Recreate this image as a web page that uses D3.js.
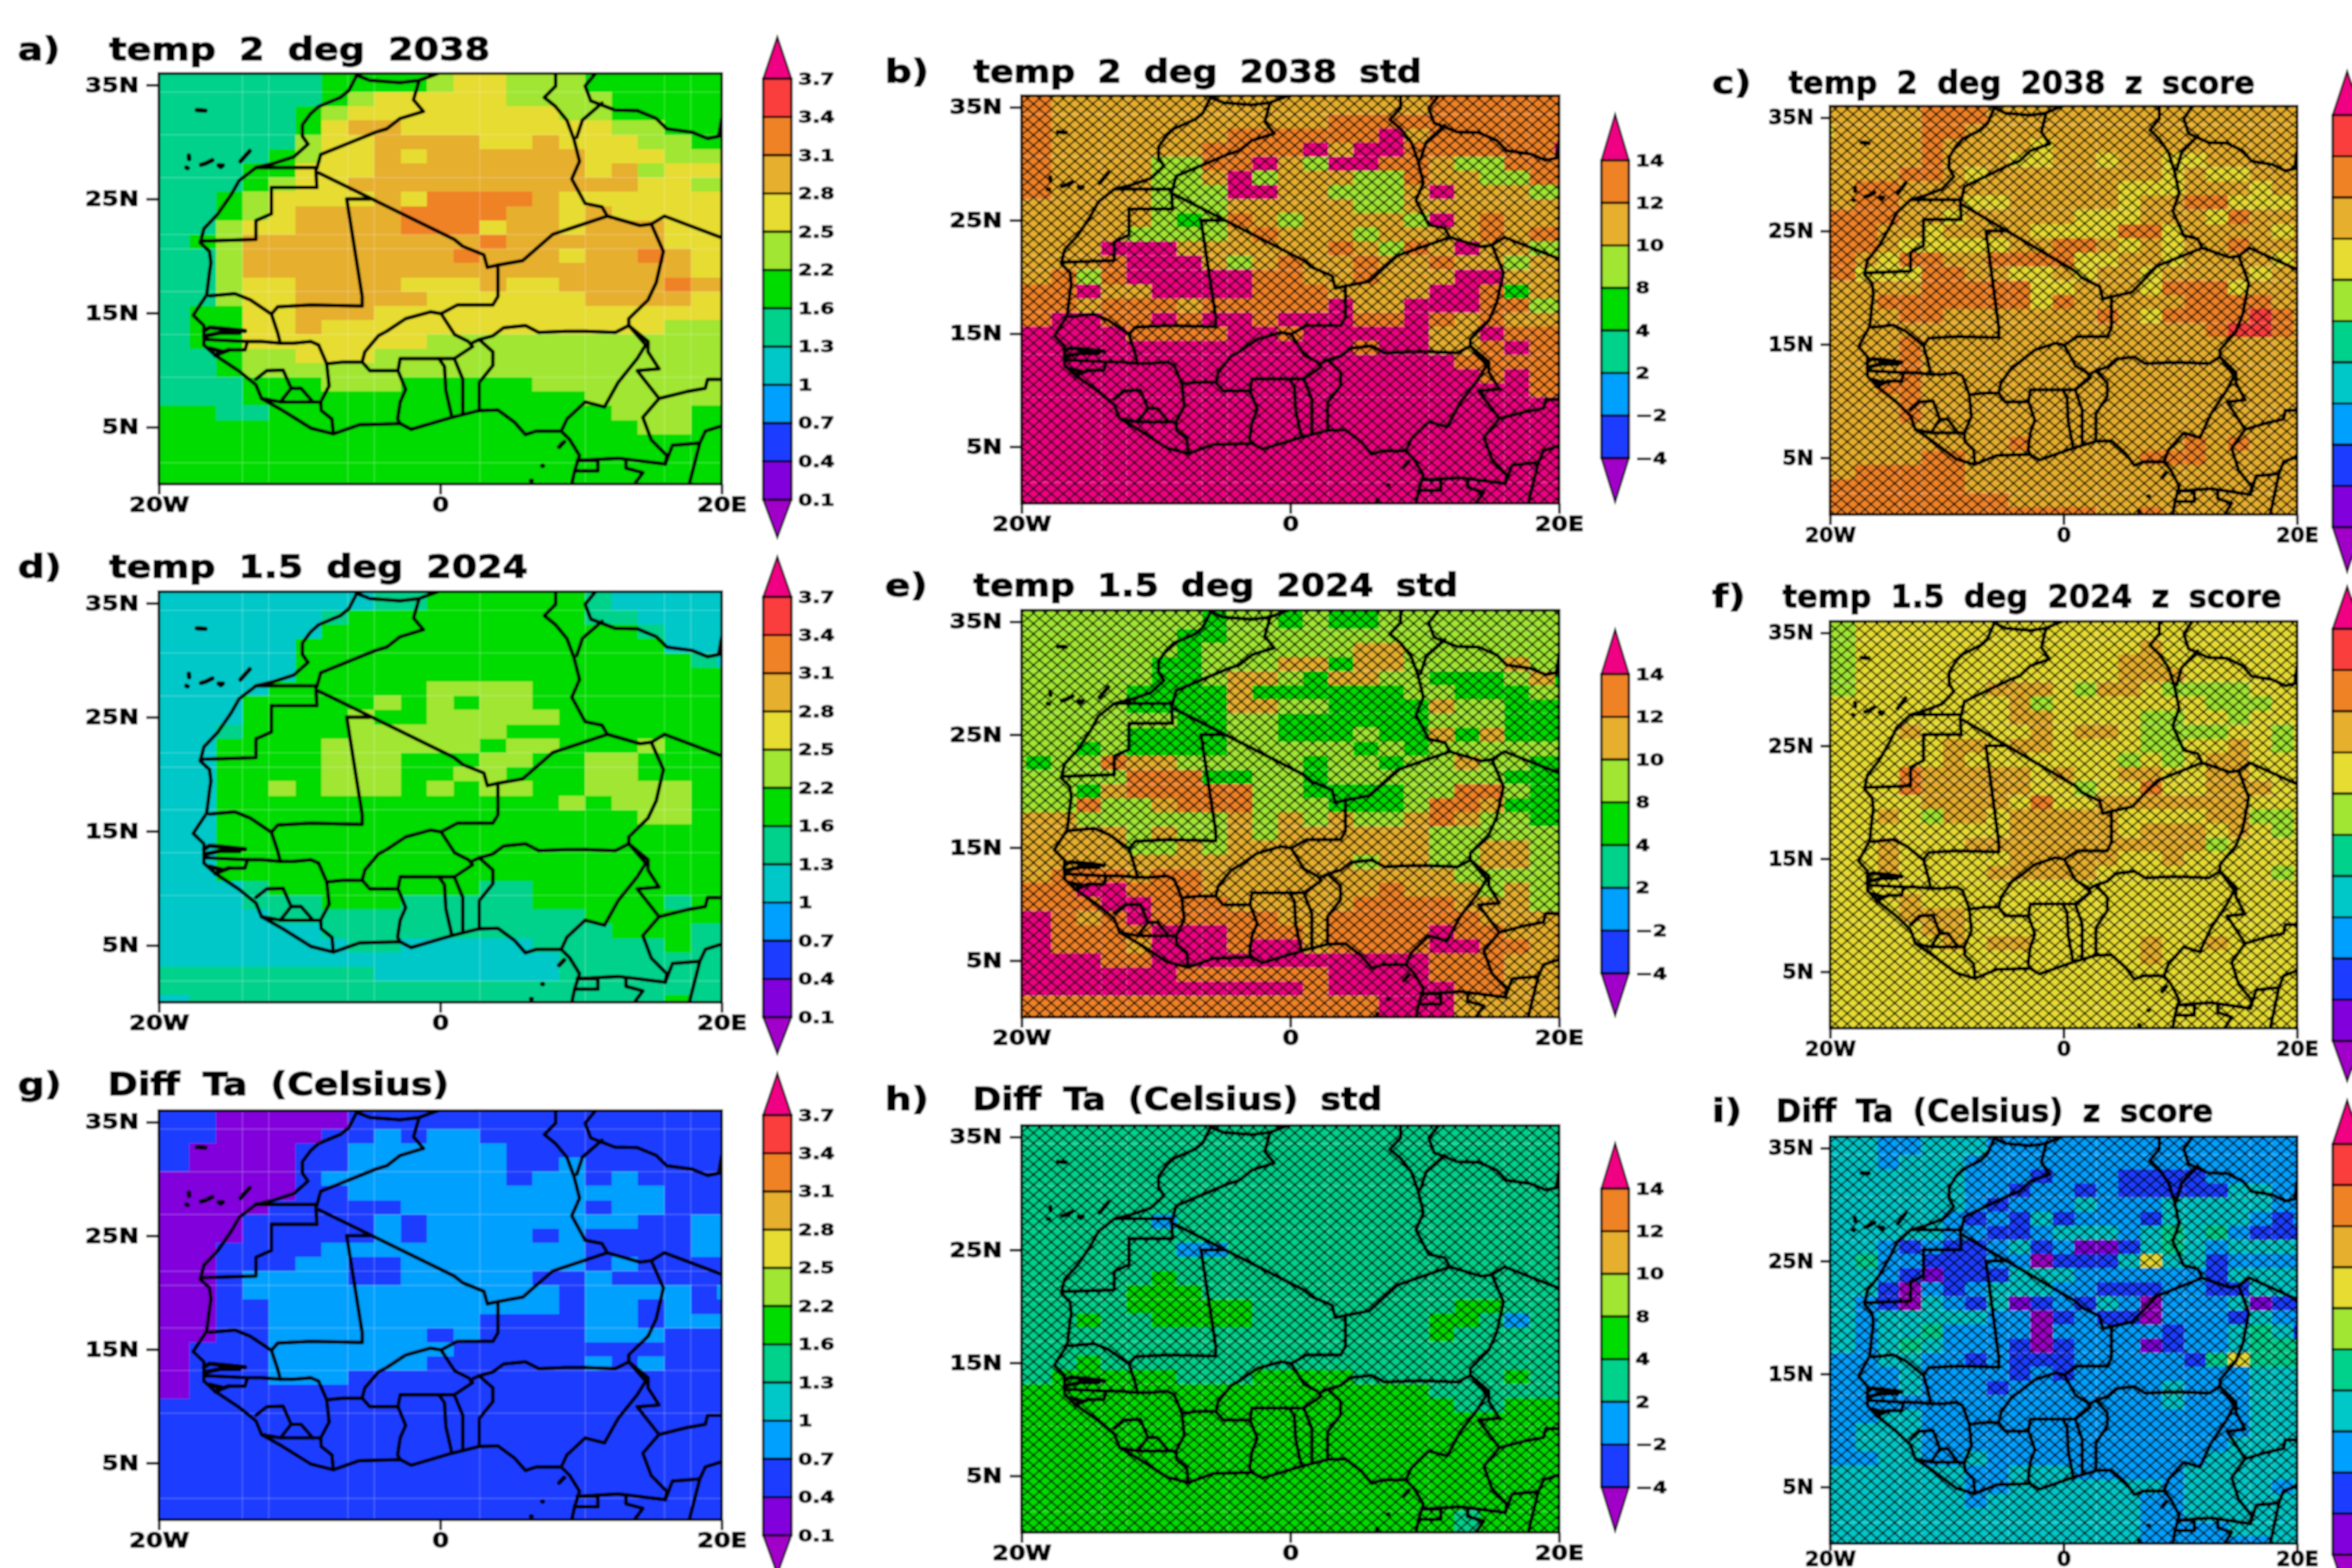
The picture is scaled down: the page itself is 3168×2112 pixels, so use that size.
<!DOCTYPE html>
<html>
<head>
<meta charset="utf-8">
<script src="https://cdn.jsdelivr.net/npm/d3@7"></script>
<style>
  html, body { margin: 0; background: #fff; }
  text { font-family: "DejaVu Sans", sans-serif; font-weight: bold; fill: #000; }
</style>
</head>
<body>
<svg id="chart" width="3168" height="2112"></svg>
<script>
// cell values are colour band numbers (hex digit per cell), north row first, 20W to 20E
const tempTwo = [
  "55555556666788777666666","55555556666788777666666","55555556788888777766666","55555567888888887766666",
  "55555568998888888877666","55555578899998898887766","55555678898999999888777","55556688899999999897888",
  "55556788999999999998877","55567888898aaaa98888888","5556789999aaaa998988888","5557889999aaa8998999888",
  "5567999999999a999999888","555799999999a999899a988","55579999999999999999988","55578899998889889999a99",
  "55578899999888888999988","55668899988888888888888","55668898888888888888777","55668888888777777777777",
  "55567788877777777777777","55567777777777777777777","55556667776666677777777","55556666666666666777777",
  "66655666666666666677766","66666666666666666667766","66666666666666666666666","66666666666666666666666",
  "66666666666666666666666","66666666666666666666666"
];
const tempTwoStd = [
  "aa999999999999999aaaaaa","aa999999999999999aaaaaa","aa99999999999aaaaaaaaaa","aa9999999aaaaaac9aaaaaa",
  "aa999999aaaac9ccaaaaaac","aa999977aac97ccaa977aaa","aa9999779c799977a9977aa","aa9999777cc997779c99977",
  "99999977799999779999999","999999767a9799997c9a999","9999977779a99979999a9aa","9999ccc999999a97a9c9977",
  "9999accc979a99a99a99799","99a7acccccaa99a999cc999","aaac99ccccaaa9999cca699","aaa9aaa9aaaaac99cccaa77",
  "aaccaacaccacccaaca9a999","cccccaaaaccaccccc99caaa","ccccccccccccccacc99acaa","ccccccccccccccccccaaaaa",
  "cccccccccccccccccccacaa","cccccccccccccccccccccaa","ccccccccccccccccccccccc","ccccccccccccccccccccccc",
  "ccccccccccccccccccccccc","ccccccccccccccccccccccc","ccccccccccccccccccccccc","ccccccccccccccccccccccc",
  "ccccccccccccccccccccccc","ccccccccccccccccccccccc"
];
const tempTwoZ = [
  "99999aaa999999999999999","99999aaa999999999999999","89999aa9999999999999999","99999a99998999999999999",
  "99999a99988998998899999","9999aa98999999998988999","99aa9999999999888999899","99aa9998899999899aa8889",
  "aaaa998999998889998a999","aaa99899998888aa8999989","aaa98888899aa989899a999","aa98aa99aaaa88998999989",
  "aa888aa9988989989999899","99999aaaaa889998aaa8999","999aaaaaaa8a99999aaaa99","9999aa9999999a98aaaaba9",
  "999999999999999999abba9","9999a999999999999999999","9999a999999999999999999","9999a999999999999999999",
  "999aa999999999999999999","9999a999999999999999999","9999a999999999999999999","99999999999999999999999",
  "999999999a9999999a9a999","99999aa99999999aaa99999","99aaaaa9999999999999999","aaaaaaa9999999999999999",
  "aaaaaaaaa99999999999999","aaaaaaaaaaaaa99a9999999"
];
const tempOneFive = [
  "44444444455666666544444","44444444455666666544444","44444445666666666554444","44444446666666666665444",
  "44444466666666666666444","44444466666666666666654","44444466666666666666666","44444666666777766666666",
  "44446666676767766666666","44446666766777776666666","44456666777777666666666","44466667777776776667666",
  "44466667776667766776666","44466667776677666776666","44466767776767766777766","44466666666666667677766",
  "44466666666666666667766","44466666666666666666666","44466666666666666666666","44466666666666666666666",
  "44466666666666666666666","44445666666665566666666","44445556665555566666566","44444555555555555666666",
  "44444445555555555566655","44444444554444455555655","44444444444444445555555","55555555544444445555555",
  "55555555555555555555555","44555555555555555555655"
];
const tempOneFiveStd = [
  "77777777677676677777777","77777777677676677777777","77777776677777777777777","77777776777777997777777",
  "77777766777996997777977","77777766799769977666796","77777666696666667766677","77777666699776666977666",
  "77777776677666666777666","77777666677666766969666","77767666677777676777777","7677a997777767767797766",
  "77777aaa667767777777666","77769aaaaa77666677aa766","777a779aaa7776667aa9666","99977777797979779a97766",
  "99999797797999999777777","99999779799999999779977","99999999999999799779977","99aaa9aa999999999977777",
  "aaaccaaa9999999a9997977","aaaaccaaa99999aaaa99977","cca9acaaaaa99aaaaaa9999","ccaaaacccaaa9aaaacaa999",
  "ccaaa9cccacc9aaaaccaa99","ccccaacccccccccccaaa999","cccccccaaaaaaccccaaa999","ccccccccccccacccccaa999",
  "aaaaaaaaaaaaaaaccc99999","aaaaaaaaaaaaaaaccc99999"
];
const tempOneFiveZ = [
  "77888888888888888888888","77888888888888888888888","77888888888888898888888","77888888888888998888888",
  "77888888888888999888888","77888888999879987777888","88888888897888888877788","88888888899888877887888",
  "88889888889899877778878","88888899899888877889878","88888898888888787899888","8888a999998988998899888",
  "8888a9999988788a8899988","8888899998a889999999888","88898799899999888899778","88888888899999899989878",
  "88898889999999999978888","88898888899999889888888","88898888999998888888878","88888888888888888888888",
  "88889888888888888888888","88889998888888888888888","88888998888888888888888","88888898998888898898888",
  "88888888888888898888888","88888888888888888888888","88888888888888888888888","88888888888888888888888",
  "88888888888888888888888","88888888888888888888888"
];
const diffTa = [
  "22211111222222222222222","22211111222222222222222","22211112232332222222222","22111122333333222222222",
  "22111122333333223222222","11111123333333233232222","11111122333333333333222","11111222223333333233222",
  "11112222232333333332233","11112222232333323222233","11122223333333333222233","11122233223333333232222",
  "11123333223333322322222","11123333333333332333323","11122333333333332332322","11122333333332222332333",
  "11122333333232222333222","11222333333322222222222","11222333333222222323222","11222333222222222222222",
  "11222222222222222222222","22222222222222222222222","22222222222222222222222","22222222222222222222222",
  "22222222222222222222222","22222222222222222222222","22222222222222222222222","22222222222222222222222",
  "22222222222222222222222","22222222222222222222222"
];
const diffStd = [
  "55555555555555555555555","55555555555555555555555","55555555555555555555555","55555555555555555555555",
  "55555555555555555555555","55555555555555555555555","55555555555555555555555","55555535555555555555555",
  "55555555555555555555555","55555553355555555555555","55555555555555555555555","55555565555555555555555",
  "55555666555555555555555","55555666665555555566555","55565566665555555665355","55555555555555555655555",
  "55555555555555555555555","55565555555555555555555","55666665556666555555655","66666666666666666555555",
  "66666666666666666655666","66666666666666666666666","66666666666666666666666","66666666666666666666666",
  "66666666666666666666666","66666666666666666666666","66666666666666666666666","66666666666666666666666",
  "66666666666666666656666","66666666666666666656666"
];
const diffZ = [
  "44433444333333333333333","44433444333333333333333","44434443333333333333333","44444443332333222233333",
  "44444443323323222224433","44444443233343334444433","44444432324233324444323","44444433223444345453222",
  "44432322342311245434444","44533222330222484423333","44432122244433333324444","44420323444332223322444",
  "44320432412324303334122","44344444330232203332433","44344533330333332334542","44345433320233312334555",
  "33344332322233333258555","33334333323233333333444","33334333233333334333444","33333333333333334333444",
  "33344333333333333333444","33444333333333333333444","33444333333333333334444","33344334333333333344444",
  "44444443344433333444444","44444443344444443444434","44444443444444433444444","44444444444444433444444",
  "44444444444444433334444","44444444444444433333344"
];

// contour levels and the bands between them, top of the colour bar first
const tempLevels = ["3.7", "3.4", "3.1", "2.8", "2.5", "2.2", "1.6", "1.3", "1", "0.7", "0.4", "0.1"];
const stdLevels = ["14", "12", "10", "8", "4", "2", "\u22122", "\u22124"];
const tempBands = [12, 11, 10, 9, 8, 7, 6, 5, 4, 3, 2, 1, 0];
const stdBands = [12, 10, 9, 7, 6, 5, 3, 2, 0];
const zBands = [12, 11, 10, 9, 8, 7, 5, 4, 3, 2, 1, 0];

const latTicks = [35, 25, 15, 5];
const latTickLabels = ["35N", "25N", "15N", "5N"];
const lonTicks = [-20, 0, 20];
const lonTickLabels = ["20W", "0", "20E"];

// pale seams left in the raster, they sit on some of the cell edges
const seamLons = [-14.0625, -12.1875, -6.5625, -4.6875, 2.8125, 10.3125, 15.9375, 17.8125];
const seamLats = [34.375, 30.625, 26.875, 21.875, 20.625, 16.875, 13.125, 9.375, 1.875];

// GrADS rainbow
const bandColors = ["#a000c8", "#8200dc", "#1e3cff", "#00a0ff", "#00c8c8", "#00d28c", "#00dc00",
  "#a0e632", "#e6dc32", "#e6af2d", "#f08228", "#fa3c3c", "#f00082"];

// map outlines in [lon, lat]
const coast = [
  [[-5.94,36.2],[-5.94,35.85],[-6.5,34.5],[-7.1,33.9],[-8.65,33.1],[-9.2,32.5],[-9.8,31.5],[-9.8,30.5],[-9.4,29.8],[-10.4,28.7],
   [-11.9,28.1],[-13.1,27.75],[-14.3,26.6],[-14.85,25.4],[-15.8,23.7],[-16.8,22.4],[-17.05,21.15],[-16.4,20.4],[-16.3,19.4],[-16.4,18.6],
   [-16.6,16.6],[-17.56,14.8],[-16.8,13.9],[-16.8,12.2],[-16,11.3],[-14.3,9.9],[-13.1,8.7],[-12.7,7.5],[-11.2,6.45],[-9.2,4.9],
   [-7.6,4.4],[-5.75,5.2],[-2.85,5.3],[-2.07,4.8],[0.83,5.85],[2.77,6.45],[4.1,6.5],[5.3,5.4],[6.06,4.33],[6.83,4.64],
   [8.6,4.64],[9.2,3.9],[9.9,2.5],[9.55,1.15],[9.35,0]],
  [[-5.94,35.85],[-5,35.4],[-2.85,35.2],[-1.5,35.4],[0.06,36.1]],
  [[11.1,36.1],[10.3,34.9],[10.7,33.6],[12.4,32.8],[14,32.75],[15.35,32.06],[16.1,31.15],[17.9,30.85],[19,30.3],[19.8,30.5],[20,32]]
];
const borders = [
  [[8.2,36],[8.2,34.9],[7.4,33.9],[8.2,33.1],[9,31.9],[9.5,30.25],[9.9,28.3],[9.35,26.75],[10.3,24.6],[11.5,24.3],[11.87,23.5]],
  [[11.5,33.4],[10.1,31.9],[9.7,30.4]],
  [[11.87,23.5],[8,21.9],[5.87,19.6],[4.1,19.2],[3.35,19],[3.1,20.1],[1.6,20.85],[1,21.45],[-8.65,27.3]],
  [[-13.1,27.75],[-8.85,27.75],[-8.77,26],[-12,26],[-12,23.7],[-13.1,23.1],[-13.1,21.45],[-17.05,21.3]],
  [[-1.5,35.4],[-1.9,33.7],[-1.2,32.67],[-2.85,32.06],[-3.8,31.15],[-4.6,30.85],[-6.5,29.9],[-8.5,28.9],[-8.77,27.67]],
  [[-5,25],[-6.65,25],[-5.55,16.45],[-5.55,15.6],[-9.2,15.7],[-11.55,15.55],[-12,14.9],[-13.5,16.15],[-14.6,16.7],[-16.4,16.5]],
  [[4.1,19.2],[4.1,16.45],[3.74,15.7],[1.2,15.7],[0.06,14.94],[-0.7,15.1],[-2.46,14.5],[-3.8,13.4],[-4.4,13],[-5.36,11.6],[-5.55,10.7],[-6.9,10.7],[-8.07,10.55]],
  [[-8.07,10.55],[-8.65,12.2],[-9.2,12.5],[-10.4,12.36],[-11.37,12.36],[-11.56,13.27],[-12,14.9]],
  [[-11.37,12.36],[-12.7,12.5],[-13.7,12.5],[-16.6,12.67]],
  [[-13.7,12.5],[-13.88,11.76],[-15.04,11.76]],
  [[-13.1,9.2],[-12.33,9.94],[-11.17,10],[-10.6,8.4],[-11.36,7.2],[-12.7,7.5]],
  [[-10.6,8.4],[-9.9,8.4],[-9.05,7.2],[-8.5,7.2],[-7.9,8.6],[-8.07,10.55]],
  [[-11.36,7.2],[-9.05,7.2]],
  [[-8.5,7.2],[-8.46,6.45],[-7.7,5.7],[-7.6,4.4]],
  [[-5.55,10.7],[-5,9.94],[-3,9.94],[-2.46,8.3],[-2.85,7.2],[-3.03,5.7],[-2.85,5.3]],
  [[-3,9.94],[-2.85,11],[-0.33,11],[1,11]],
  [[-0.1,11],[0.3,10.3],[0.4,8.2],[0.83,5.85]],
  [[1,11],[1.6,9.2],[1.6,6.1]],
  [[0.06,14.94],[1.03,13.1],[2,12.5],[2.3,12.06],[1,11]],
  [[2.3,12.4],[2.77,12.67],[3.74,11.6],[3.74,10.4],[2.77,8.9],[2.77,6.45]],
  [[2.77,12.67],[3.74,13],[4.5,13.7],[6.06,13.9],[7,13.3],[8.97,13.4],[10.3,13.4],[12.45,13.3],[13.4,13.9]],
  [[13.4,13.9],[13.4,14.5],[14.77,16.15],[15.35,17.67],[15.86,20.4],[15,22.8],[14.2,22.67],[11.87,23.5]],
  [[15,22.8],[15.93,23.5],[20,21.6]],
  [[13.4,13.9],[14.6,12.2],[14,11],[12.64,8.9],[11.67,6.76],[10.3,7.2],[9,5.7],[8.6,4.64]],
  [[13.4,13.9],[14.77,12.5],[14.77,11.6],[15.55,10.1],[14,9.94],[15.55,7.5]],
  [[15.55,7.5],[17.5,8.1],[18.84,8.4],[19,9.18],[20,9.18]],
  [[15.55,7.5],[14.4,5.85],[15,3.88],[16.1,2.5],[16,1.76],[12.64,2.27],[9.74,2.06]],
  [[9.74,2.06],[11.2,2.06],[11.2,1.15],[9.55,1.15]],
  [[13.2,2.1],[13.2,1.4],[14.4,1],[13.8,0]],
  [[16,1.76],[16.5,3.4],[18.45,3.6],[17.7,0]],
  [[18.45,3.6],[18.84,4.64],[20,5.1]]
];
const islands = [
  [[-17.3,32.8],[-16.7,32.75]],
  [[-17.87,28.8],[-17.85,28.5]],
  [[-18.05,27.75],[-17.95,27.7]],
  [[-17,28],[-16.7,28.1],[-16.2,28.4]],
  [[-15.75,27.95],[-15.45,27.95],[-15.6,27.8],[-15.75,27.95]],
  [[-14.2,28.3],[-13.55,29.2]],
  [[8.45,3.25],[8.8,3.7]],
  [[7.25,1.6],[7.3,1.6]],
  [[6.45,0.3],[6.5,0.3]],
  [[-16.79,13.42],[-16.4,13.73],[-15.04,13.58],[-13.88,13.42]],
  [[-16.79,12.97],[-15.62,13.27],[-14.27,13.27]],
  [[-16.4,11.9],[-15.4,11.6]],
  [[-16,11.3],[-15.04,11.76]]
];

// cell centres of the model grid, cells are 1.875 by 1.25 degrees
const lonCentres = d3.range(-11, 12).map(k => k * 1.875);
const latCentres = d3.range(29, -1, -1).map(k => k * 1.25);

const color = d3.scaleOrdinal().domain(d3.range(13)).range(bandColors);

const panels = [
  { tag: "a)", title: "temp 2 deg 2038", data: tempTwo, col: 0, top: 99, bottom: 652, tagY: 81, titleX: 147, titleW: 513,
    barTop: 106, barBottom: 673, tipTop: 50, tipBottom: 724 },
  { tag: "b)", title: "temp 2 deg 2038 std", data: tempTwoStd, col: 1, top: 129, bottom: 678, tagY: 111, titleX: 1311, titleW: 604,
    barTop: 216, barBottom: 617, tipTop: 154, tipBottom: 676 },
  { tag: "c)", title: "temp 2 deg 2038 z score", data: tempTwoZ, col: 2, top: 143, bottom: 693, tagY: 126, titleX: 2409, titleW: 628,
    barTop: 155, barBottom: 710, tipTop: 96, tipBottom: 770 },
  { tag: "d)", title: "temp 1.5 deg 2024", data: tempOneFive, col: 0, top: 797, bottom: 1350, tagY: 778, titleX: 147, titleW: 564,
    barTop: 804, barBottom: 1370, tipTop: 750, tipBottom: 1419 },
  { tag: "e)", title: "temp 1.5 deg 2024 std", data: tempOneFiveStd, col: 1, top: 822, bottom: 1370, tagY: 803, titleX: 1311, titleW: 653,
    barTop: 908, barBottom: 1311, tipTop: 848, tipBottom: 1368 },
  { tag: "f)", title: "temp 1.5 deg 2024 z score", data: tempOneFiveZ, col: 2, top: 837, bottom: 1385, tagY: 818, titleX: 2401, titleW: 672,
    barTop: 847, barBottom: 1402, tipTop: 790, tipBottom: 1456 },
  { tag: "g)", title: "Diff Ta (Celsius)", data: diffTa, col: 0, top: 1496, bottom: 2047, tagY: 1475, titleX: 145, titleW: 460,
    barTop: 1502, barBottom: 2068, tipTop: 1446, tipBottom: 2120 },
  { tag: "h)", title: "Diff Ta (Celsius) std", data: diffStd, col: 1, top: 1516, bottom: 2064, tagY: 1495, titleX: 1310, titleW: 552,
    barTop: 1601, barBottom: 2003, tipTop: 1540, tipBottom: 2062 },
  // bottom labels pulled up a little so they stay on the page
  { tag: "i)", title: "Diff Ta (Celsius) z score", data: diffZ, col: 2, top: 1531, bottom: 2079, tagY: 1511, titleX: 2392, titleW: 589,
    barTop: 1541, barBottom: 2094, tipTop: 1482, tipBottom: 2152, lonTick: 10, lonPad: 1 }
];

// per column: map extent, tag position, tick size, label stretch, colour bar
const columns = [
  { left: 214, right: 972, tagX: 24, tick: 17, pad: 10, stretch: 1.2, barL: 1028, barR: 1066, levels: tempLevels, bands: tempBands, hatch: false },
  { left: 1376, right: 2100, tagX: 1192, tick: 16, pad: 10, stretch: 1.18, barL: 2157, barR: 2194, levels: stdLevels, bands: stdBands, hatch: true },
  { left: 2465, right: 3094, tagX: 2306, tick: 13, pad: 9, stretch: 1.02, barL: 3142, barR: 3181, levels: null, bands: zBands, hatch: true }
];

const svg = d3.select("#chart");
const defs = svg.append("defs");

defs.append("filter").attr("id", "soft").attr("x", 0).attr("y", 0)
  .attr("filterUnits", "userSpaceOnUse").attr("width", 3168).attr("height", 2112)
  .append("feGaussianBlur").attr("stdDeviation", 1.1);

const hatch = defs.append("pattern").attr("id", "hatch").attr("patternUnits", "userSpaceOnUse")
  .attr("width", 16).attr("height", 14);
hatch.append("path").attr("d", "M0,0L16,14M16,0L0,14").attr("stroke", "#000").attr("stroke-width", 1.7).attr("fill", "none");

const root = svg.append("g").attr("filter", "url(#soft)");
root.append("rect").attr("width", 3168).attr("height", 2112).attr("fill", "#fff");

// widen a text to a given length, the original lettering is wider than any installed font
const widen = (sel, k) => sel.each(function() {
  d3.select(this).attr("textLength", this.getComputedTextLength() * k).attr("lengthAdjust", "spacingAndGlyphs");
});

const draw = p => {
  const c = columns[p.col];
  const x = d3.scaleLinear().domain([-20, 20]).range([c.left, c.right]).clamp(true);
  const y = d3.scaleLinear().domain([0, 36]).range([p.bottom, p.top]).clamp(true);
  const g = root.append("g");

  const cells = [];
  p.data.forEach((row, i) => {
    lonCentres.forEach((lon, j) => {
      cells.push({ lon, lat: latCentres[i], band: parseInt(row[j], 16) });
    });
  });

  g.selectAll("rect.cell").data(cells).enter().append("rect")
    .attr("class", "cell")
    .attr("x", d => x(d.lon - 0.9375))
    .attr("y", d => y(d.lat + 0.625))
    .attr("width", d => x(d.lon + 0.9375) - x(d.lon - 0.9375))
    .attr("height", d => y(d.lat - 0.625) - y(d.lat + 0.625))
    .attr("fill", d => color(d.band))
    .attr("shape-rendering", "crispEdges");

  g.selectAll("line.seamx").data(seamLons).enter().append("line")
    .attr("class", "seamx")
    .attr("x1", d => x(d)).attr("x2", d => x(d))
    .attr("y1", p.top).attr("y2", p.bottom)
    .attr("stroke", "#fff").attr("stroke-opacity", 0.22).attr("stroke-width", 1.5);
  g.selectAll("line.seamy").data(seamLats).enter().append("line")
    .attr("class", "seamy")
    .attr("x1", c.left).attr("x2", c.right)
    .attr("y1", d => y(d)).attr("y2", d => y(d))
    .attr("stroke", "#fff").attr("stroke-opacity", 0.22).attr("stroke-width", 1.5);

  if (c.hatch) {
    g.append("rect").attr("x", c.left).attr("y", p.top)
      .attr("width", c.right - c.left).attr("height", p.bottom - p.top)
      .attr("fill", "url(#hatch)");
  }

  // outlines, clipped to the map box
  const clipId = "clip" + p.tag[0];
  defs.append("clipPath").attr("id", clipId).append("rect")
    .attr("x", c.left).attr("y", p.top).attr("width", c.right - c.left).attr("height", p.bottom - p.top);

  const free = d3.scaleLinear().domain(x.domain()).range(x.range());
  const freeY = d3.scaleLinear().domain(y.domain()).range(y.range());
  const line = d3.line().x(d => free(d[0])).y(d => freeY(d[1]));
  const map = g.append("g").attr("clip-path", "url(#" + clipId + ")")
    .attr("fill", "none").attr("stroke", "#000")
    .attr("stroke-linejoin", "round").attr("stroke-linecap", "round");

  map.selectAll("path.land").data(coast.concat(borders)).enter().append("path")
    .attr("class", "land").attr("d", line).attr("stroke-width", 5);
  map.selectAll("path.isle").data(islands).enter().append("path")
    .attr("class", "isle").attr("d", line).attr("stroke-width", 6);

  g.append("rect").attr("x", c.left).attr("y", p.top)
    .attr("width", c.right - c.left).attr("height", p.bottom - p.top)
    .attr("fill", "none").attr("stroke", "#000").attr("stroke-width", 3.5);

  // axes
  const axisY = d3.axisLeft(y).tickValues(latTicks)
    .tickFormat((d, i) => latTickLabels[i]).tickSize(c.tick).tickPadding(c.pad);
  const axisX = d3.axisBottom(x).tickValues(lonTicks)
    .tickFormat((d, i) => lonTickLabels[i]).tickSize(p.lonTick || 14).tickPadding(p.lonPad || 4);

  const ay = g.append("g").attr("transform", "translate(" + c.left + ",0)").call(axisY);
  const ax = g.append("g").attr("transform", "translate(0," + p.bottom + ")").call(axisX);
  [ay, ax].forEach(a => {
    a.select(".domain").remove();
    a.selectAll("line").attr("stroke", "#000").attr("stroke-width", 3.5);
    a.selectAll("text").attr("font-size", 27).attr("stroke", "#000").attr("stroke-width", 1.3)
      .style("font-family", '"DejaVu Sans"').style("font-weight", "bold").call(widen, c.stretch);
  });

  // tag and title
  g.append("text").attr("x", c.tagX).attr("y", p.tagY).attr("font-size", 42)
    .attr("stroke", "#000").attr("stroke-width", 1.4).text(p.tag).call(widen, 1.2);
  g.append("text").attr("x", p.titleX).attr("y", p.tagY)
    .attr("font-size", 42).style("word-spacing", "12px")
    .attr("stroke", "#000").attr("stroke-width", 1.4)
    .attr("textLength", p.titleW).attr("lengthAdjust", "spacingAndGlyphs").text(p.title);

  // colour bar
  const nLev = c.levels ? c.levels.length : c.bands.length - 1;
  const by = d3.scaleLinear().domain([0, nLev - 1]).range([p.barTop, p.barBottom]);
  const mid = (c.barL + c.barR) / 2;
  const bar = g.append("g");
  const inner = c.bands.slice(1, -1);

  bar.append("path")
    .attr("d", "M" + c.barL + "," + by(0) + "L" + mid + "," + p.tipTop + "L" + c.barR + "," + by(0) + "Z")
    .attr("fill", color(c.bands[0])).attr("stroke", "#000").attr("stroke-width", 2.5);
  bar.append("path")
    .attr("d", "M" + c.barL + "," + by(nLev - 1) + "L" + mid + "," + p.tipBottom + "L" + c.barR + "," + by(nLev - 1) + "Z")
    .attr("fill", color(c.bands[c.bands.length - 1])).attr("stroke", "#000").attr("stroke-width", 2.5);

  bar.selectAll("rect").data(inner).enter().append("rect")
    .attr("x", c.barL).attr("width", c.barR - c.barL)
    .attr("y", (d, i) => by(i)).attr("height", (d, i) => by(i + 1) - by(i))
    .attr("fill", d => color(d)).attr("stroke", "#000").attr("stroke-width", 3);

  if (c.levels) {
    bar.selectAll("text").data(c.levels).enter().append("text")
      .attr("x", c.barR + 9)
      .attr("y", (d, i) => by(i) + 7.5)
      .attr("font-size", 21)
      .attr("stroke", "#000").attr("stroke-width", 1)
      .text(d => d)
      .call(widen, 1.32);
  }
};

panels.forEach(draw);
</script>
</body>
</html>
